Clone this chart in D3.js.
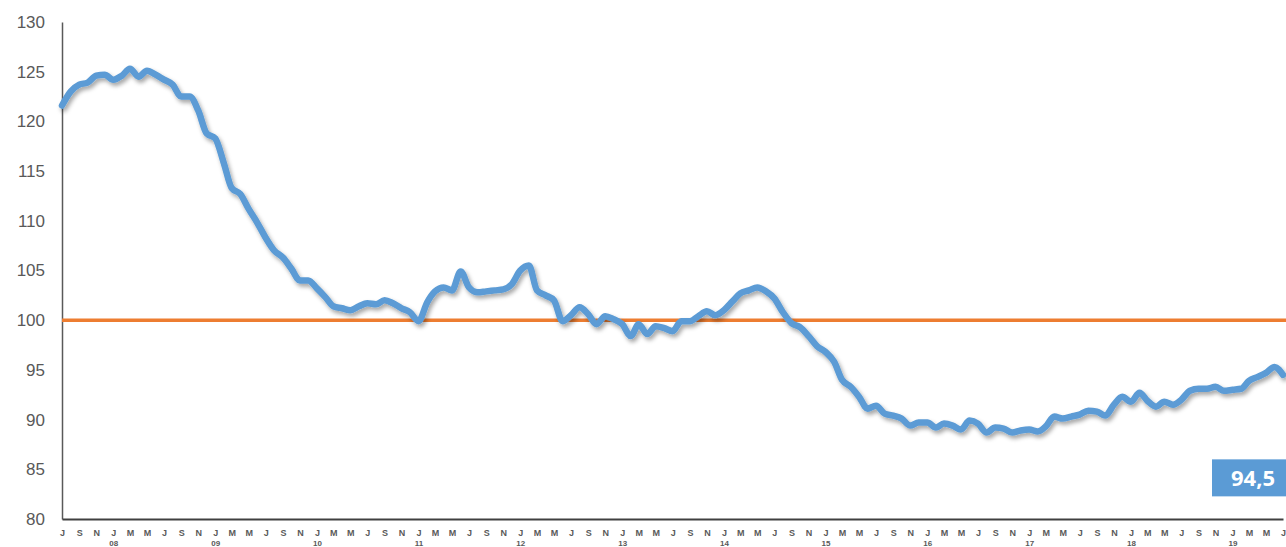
<!DOCTYPE html>
<html>
<head>
<meta charset="utf-8">
<script src="https://cdn.jsdelivr.net/npm/d3@7"></script>
<style>
  body { margin: 0; background: #fff; }
  svg { display: block; font-family: "Open Sans", "Liberation Sans", sans-serif; }
</style>
</head>
<body>
<div id="graphic"></div>
<script>
// monthly index, July 2007 .. July 2019
var startMonth = new Date(2007, 6, 1);
var values = [
  121.6, 123.0, 123.7, 123.9, 124.6, 124.7, 124.2, 124.6, 125.3, 124.5,
  125.1, 124.7, 124.2, 123.7, 122.5, 122.5, 121.1, 118.8, 118.3, 115.8,
  113.3, 112.7, 111.2, 109.8, 108.3, 107.0, 106.3, 105.2, 104.0, 104.0,
  103.2, 102.3, 101.4, 101.2, 101.0, 101.4, 101.7, 101.6, 102.0, 101.7,
  101.2, 100.8, 99.9, 101.8, 102.9, 103.3, 103.0, 104.9, 103.3, 102.8,
  102.9, 103.0, 103.1, 103.6, 105.0, 105.5, 103.0, 102.5, 102.0, 99.9,
  100.5, 101.3, 100.6, 99.6, 100.4, 100.1, 99.6, 98.4, 99.6, 98.6,
  99.4, 99.2, 98.9, 99.9, 99.9, 100.4, 100.9, 100.5, 101.0, 101.9,
  102.7, 103.0, 103.3, 102.9, 102.2, 100.8, 99.7, 99.3, 98.4, 97.4,
  96.8, 95.8, 94.0, 93.3, 92.3, 91.1, 91.4, 90.6, 90.4, 90.1,
  89.4, 89.7, 89.7, 89.2, 89.6, 89.4, 89.0, 89.9, 89.6, 88.7,
  89.2, 89.1, 88.7, 88.9, 89.0, 88.8, 89.3, 90.3, 90.1, 90.3,
  90.5, 90.9, 90.8, 90.4, 91.5, 92.3, 91.8, 92.7, 91.9, 91.3,
  91.8, 91.5, 92.0, 92.9, 93.1, 93.1, 93.3, 92.9, 93.0, 93.1,
  93.9, 94.3, 94.7, 95.3, 94.5
];
var monthLetters = ["J", "F", "M", "A", "M", "J", "J", "A", "S", "O", "N", "D"];
var yTicks = [80, 85, 90, 95, 100, 105, 110, 115, 120, 125, 130];
var yearLabels = ["08", "09", "10", "11", "12", "13", "14", "15", "16", "17", "18", "19"];
var baseValue = 100;
var lastLabel = "94,5";

var width = 1286, height = 547;
var margin = { top: 22, right: 3, bottom: 28, left: 62 };

var svg = d3.select("#graphic").append("svg")
    .attr("width", width)
    .attr("height", height);

var data = values.map(function (v, i) {
    return { date: d3.timeMonth.offset(startMonth, i), value: v };
});

var x = d3.scaleTime()
    .domain([data[0].date, data[data.length - 1].date])
    .range([margin.left, width - margin.right]);

var y = d3.scaleLinear()
    .domain([80, 130])
    .range([height - margin.bottom, margin.top]);

// drop shadow for the line
var defs = svg.append("defs");
var f = defs.append("filter").attr("id", "shadow")
    .attr("x", "-5%").attr("y", "-5%").attr("width", "110%").attr("height", "120%");
f.append("feDropShadow")
    .attr("dx", 2).attr("dy", 3).attr("stdDeviation", 2)
    .attr("flood-color", "#000").attr("flood-opacity", 0.35);

// y axis
var yAxis = svg.append("g")
    .attr("transform", "translate(" + margin.left + ",0)")
    .call(d3.axisLeft(y).tickValues(yTicks).tickSize(0).tickPadding(17));
yAxis.select(".domain").attr("stroke", "#595959").attr("stroke-width", 1.5);
yAxis.selectAll("text").attr("font-size", 17).attr("fill", "#595959");

// 100 reference line
svg.append("line")
    .attr("x1", margin.left).attr("x2", width)
    .attr("y1", y(baseValue)).attr("y2", y(baseValue))
    .attr("stroke", "#ed7d31").attr("stroke-width", 3.5);

// x axis, month letters every 2 months
var tickDates = data.filter(function (d, i) { return i % 2 === 0; })
    .map(function (d) { return d.date; });
var xAxis = svg.append("g")
    .attr("transform", "translate(0," + y(80) + ")")
    .call(d3.axisBottom(x).tickValues(tickDates).tickSize(0).tickPadding(11)
        .tickFormat(function (d) { return monthLetters[d.getMonth()]; }));
xAxis.select(".domain").attr("stroke", "#404040").attr("stroke-width", 2);
xAxis.selectAll("text").attr("font-size", 9).attr("font-weight", "bold").attr("fill", "#595959");

// year labels under January
var janDates = data.filter(function (d) { return d.date.getMonth() === 0; })
    .map(function (d) { return d.date; });
var yearAxis = svg.append("g")
    .attr("transform", "translate(0," + (y(80) + 20) + ")")
    .call(d3.axisBottom(x).tickValues(janDates).tickSize(0).tickPadding(1)
        .tickFormat(function (d, i) { return yearLabels[i]; }));
yearAxis.select(".domain").remove();
yearAxis.selectAll("text").attr("font-size", 8).attr("font-weight", "bold").attr("fill", "#595959");

// the index line
var line = d3.line()
    .x(function (d) { return x(d.date); })
    .y(function (d) { return y(d.value); })
    .curve(d3.curveMonotoneX);

svg.append("path")
    .datum(data)
    .attr("d", line)
    .attr("fill", "none")
    .attr("stroke", "#5b9bd5")
    .attr("stroke-width", 6.5)
    .attr("stroke-linejoin", "round")
    .attr("stroke-linecap", "round")
    .attr("filter", "url(#shadow)");

// last value box, bottom right
var boxW = 74, boxH = 37;
var box = svg.append("g")
    .attr("transform", "translate(" + (width - boxW) + "," + y(86) + ")");
box.append("rect")
    .attr("width", boxW).attr("height", boxH)
    .attr("fill", "#5b9bd5");
box.append("text")
    .attr("x", boxW / 2 + 4).attr("y", 27)
    .attr("text-anchor", "middle")
    .attr("font-size", 22).attr("font-weight", "bold")
    .attr("fill", "#fff")
    .text(lastLabel);
</script>
</body>
</html>
